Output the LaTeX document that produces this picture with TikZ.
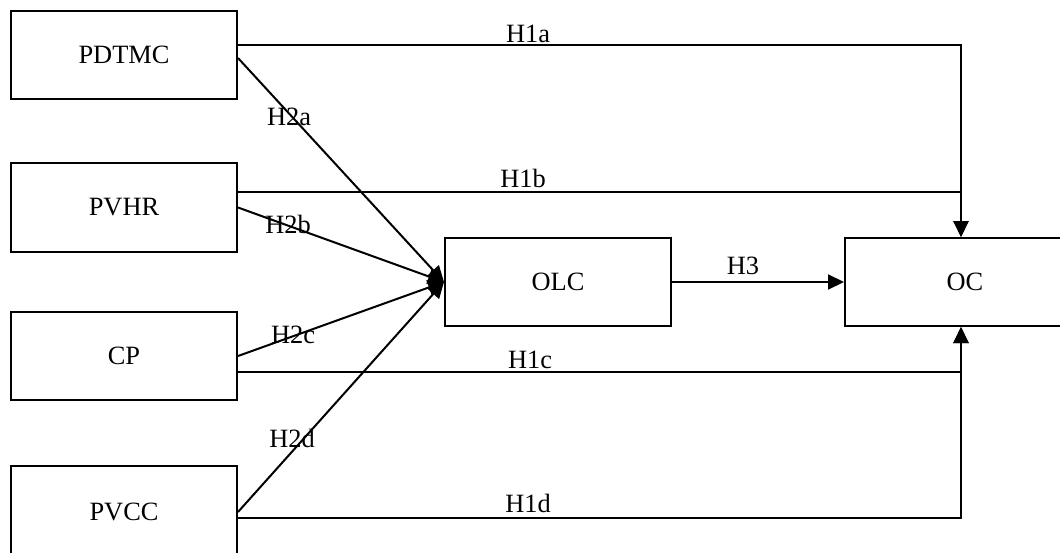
\documentclass[tikz,border=0pt]{standalone}
\usepackage{fontspec}
\setmainfont{Liberation Serif}
\usetikzlibrary{arrows.meta}
\begin{document}
\begin{tikzpicture}[x=1pt,y=-1pt,
  line width=2pt,
  boxnode/.style={draw, line width=2pt, minimum width=226pt, minimum height=88pt, inner sep=0pt, font=\fontsize{26.4pt}{30pt}\selectfont},
  lbl/.style={inner sep=0pt, anchor=base, font=\fontsize{26.4pt}{30pt}\selectfont},
  arr/.style={-{Triangle[length=16pt,width=15pt]}}]
\useasboundingbox (0,0) rectangle (1060,552);
\fill[white] (0,0) rectangle (1060,552);
% boxes
\node[boxnode] (PDTMC) at (124,55) {PDTMC};
\node[boxnode, minimum height=89pt] (PVHR) at (124,207.5) {PVHR};
\node[boxnode] (CP) at (124,356) {CP};
\node[boxnode, minimum height=92pt] (PVCC) at (124,512) {PVCC};
\node[boxnode] (OLC) at (558,282) {OLC};
\node[boxnode, minimum width=240pt] (OC) at (965,282) {OC};
% H1 paths
\draw[arr] ([yshift=10pt]PDTMC.east) -| ([xshift=-4pt]OC.north);
\draw[arr] ([yshift=15.5pt]PVHR.east) -| ([xshift=-4pt]OC.north);
\draw[arr] ([yshift=-16pt]CP.east) -| ([xshift=-4pt]OC.south);
\draw[arr] ([yshift=-6pt]PVCC.east) -| ([xshift=-4pt]OC.south);
% H2 paths
\draw[arr] ([yshift=-3pt]PDTMC.east) -- (OLC.west);
\draw[arr] (PVHR.east) -- (OLC.west);
\draw[arr] (CP.east) -- (OLC.west);
\draw[arr] (PVCC.east) -- (OLC.west);
% H3
\draw[arr] (OLC.east) -- (OC.west);
% labels
\node[lbl] (l1a) at (528,42) {H1a};
\node[lbl] (l1b) at (523,187) {H1b};
\node[lbl] (l1c) at (530,368) {H1c};
\node[lbl] (l1d) at (528,512) {H1d};
\node[lbl] (l3) at (743,274) {H3};
\node[lbl] (l2a) at (289,125) {H2a};
\node[lbl] (l2b) at (288,233) {H2b};
\node[lbl] (l2c) at (293,343) {H2c};
\node[lbl] (l2d) at (292,447) {H2d};
\end{tikzpicture}
\end{document}
